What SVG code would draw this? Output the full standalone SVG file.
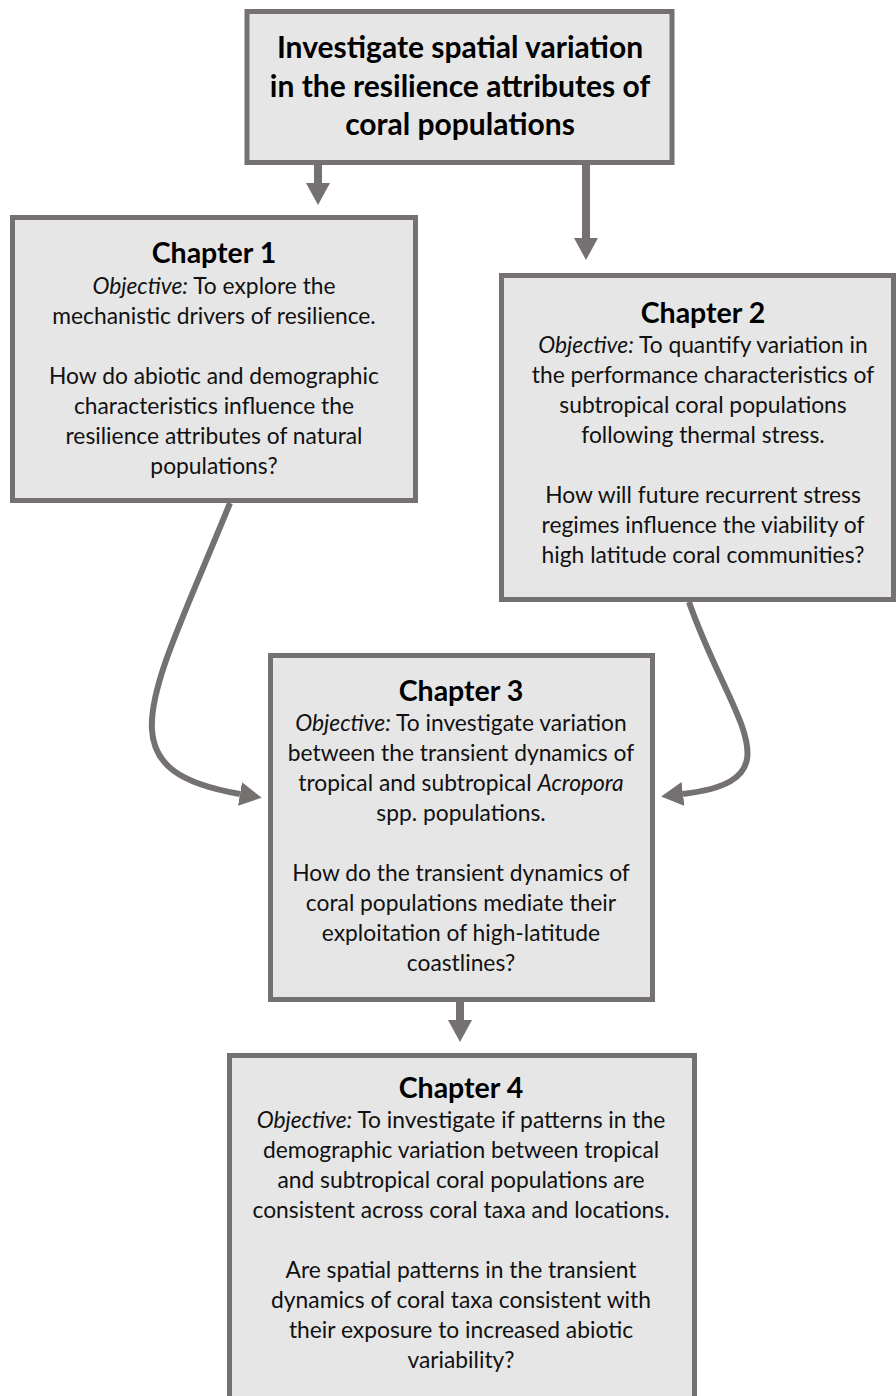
<svg xmlns="http://www.w3.org/2000/svg" width="896" height="1396" viewBox="0 0 896 1396">
<style>
.box{fill:#e6e6e6;stroke:#767171;stroke-width:5}
.t{font-family:Lato,"Open Sans","Liberation Sans",sans-serif;font-size:22.8px;fill:#111;text-anchor:middle}
.h{font-family:Lato,"Open Sans","Liberation Sans",sans-serif;font-size:28.5px;font-weight:bold;fill:#000;text-anchor:middle}
.ti{font-family:Lato,"Open Sans","Liberation Sans",sans-serif;font-size:30px;font-weight:bold;fill:#000;text-anchor:middle}
.i{font-style:italic}
.c{fill:none;stroke:#767171}
</style>
<defs>
<marker id="ah" viewBox="0 0 22 24" refX="0" refY="12" markerWidth="22" markerHeight="24" markerUnits="userSpaceOnUse" orient="auto">
<path d="M0,0 L22,12 L0,24 z" fill="#767171"/>
</marker>
</defs>
<g id="connectors">
<path class="c" d="M318,165 L318,183" stroke-width="8" marker-end="url(#ah)"/>
<path class="c" d="M586,165 L586,238" stroke-width="8" marker-end="url(#ah)"/>
<path class="c" d="M460,1002 L460,1020" stroke-width="8" marker-end="url(#ah)"/>
<path class="c" d="M230,503 C150,700 100,770 240,794" stroke-width="6" marker-end="url(#ah)"/>
<path class="c" d="M689,602 C730,720 800,780 683,794" stroke-width="6" marker-end="url(#ah)"/>
</g>
<g id="top">
<rect class="box" x="247" y="11.5" width="425" height="151"/>
<text class="ti" x="460" y="58">Investigate spatial variation</text>
<text class="ti" x="460" y="97">in the resilience attributes of</text>
<text class="ti" x="460" y="135">coral populations</text>
</g>
<g id="ch1">
<rect class="box" x="12.5" y="217.5" width="403" height="283"/>
<text class="h" x="214" y="263">Chapter 1</text>
<text class="t" x="214" y="294"><tspan class="i">Objective:</tspan> To explore the</text>
<text class="t" x="214" y="324">mechanistic drivers of resilience.</text>
<text class="t" x="214" y="384">How do abiotic and demographic</text>
<text class="t" x="214" y="414">characteristics influence the</text>
<text class="t" x="214" y="444">resilience attributes of natural</text>
<text class="t" x="214" y="474">populations?</text>
</g>
<g id="ch2">
<rect class="box" x="501.5" y="275.5" width="392" height="324"/>
<text class="h" x="703" y="323">Chapter 2</text>
<text class="t" x="703" y="353"><tspan class="i">Objective:</tspan> To quantify variation in</text>
<text class="t" x="703" y="383">the performance characteristics of</text>
<text class="t" x="703" y="413">subtropical coral populations</text>
<text class="t" x="703" y="443">following thermal stress.</text>
<text class="t" x="703" y="503">How will future recurrent stress</text>
<text class="t" x="703" y="533">regimes influence the viability of</text>
<text class="t" x="703" y="563">high latitude coral communities?</text>
</g>
<g id="ch3">
<rect class="box" x="270.5" y="655.5" width="382" height="344"/>
<text class="h" x="461" y="701">Chapter 3</text>
<text class="t" x="461" y="731"><tspan class="i">Objective:</tspan> To investigate variation</text>
<text class="t" x="461" y="761">between the transient dynamics of</text>
<text class="t" x="461" y="791">tropical and subtropical <tspan class="i">Acropora</tspan></text>
<text class="t" x="461" y="821">spp. populations.</text>
<text class="t" x="461" y="881">How do the transient dynamics of</text>
<text class="t" x="461" y="911">coral populations mediate their</text>
<text class="t" x="461" y="941">exploitation of high-latitude</text>
<text class="t" x="461" y="971">coastlines?</text>
</g>
<g id="ch4">
<rect class="box" x="229.5" y="1055.5" width="465" height="360"/>
<text class="h" x="461" y="1098">Chapter 4</text>
<text class="t" x="461" y="1128"><tspan class="i">Objective:</tspan> To investigate if patterns in the</text>
<text class="t" x="461" y="1158">demographic variation between tropical</text>
<text class="t" x="461" y="1188">and subtropical coral populations are</text>
<text class="t" x="461" y="1218">consistent across coral taxa and locations.</text>
<text class="t" x="461" y="1278">Are spatial patterns in the transient</text>
<text class="t" x="461" y="1308">dynamics of coral taxa consistent with</text>
<text class="t" x="461" y="1338">their exposure to increased abiotic</text>
<text class="t" x="461" y="1368">variability?</text>
</g>
</svg>
